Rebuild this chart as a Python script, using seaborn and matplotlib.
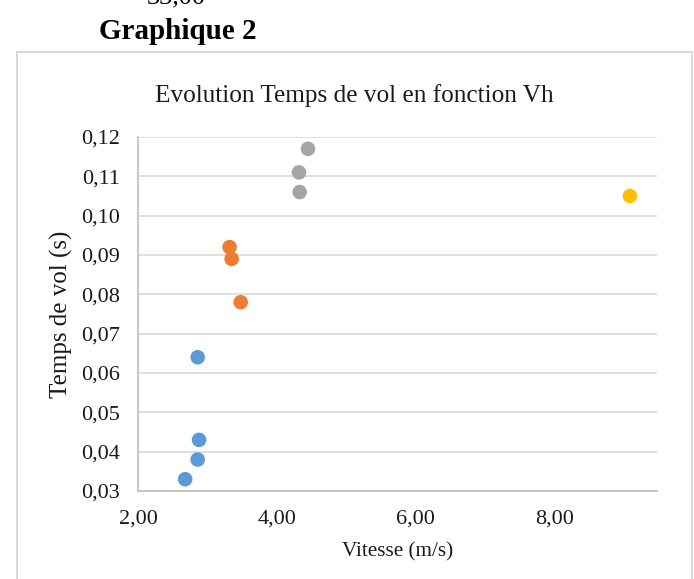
import matplotlib
matplotlib.use("Agg")
import matplotlib.pyplot as plt
import matplotlib.patches as mpatches
import seaborn as sns
import pandas as pd

# Data
series = ["S1", "S1", "S1", "S1", "S2", "S2", "S2", "S3", "S3", "S3", "S4"]
vitesse = [2.68, 2.86, 2.88, 2.86, 3.32, 3.35, 3.48, 4.45, 4.32, 4.33, 9.09]
temps_vol = [0.033, 0.038, 0.043, 0.064, 0.092, 0.089, 0.078, 0.117, 0.111, 0.106, 0.105]
colors = ["#5B9BD5", "#ED7D31", "#A5A5A5", "#FFC000"]
y_ticks = [0.03, 0.04, 0.05, 0.06, 0.07, 0.08, 0.09, 0.10, 0.11, 0.12]
x_ticks = [2.0, 4.0, 6.0, 8.0]

df = pd.DataFrame({"serie": series, "Vitesse": vitesse, "Temps": temps_vol})

sns.set_style("white")
plt.rcParams["font.family"] = ["Liberation Serif", "DejaVu Serif"]

W, H = 694, 579
fig = plt.figure(figsize=(W / 100, H / 100), dpi=100)

# chart frame
frame = mpatches.Rectangle((17 / W, -0.05), (692 - 17) / W, (579 - 52) / H + 0.05,
                           transform=fig.transFigure, fill=False,
                           edgecolor="#d9d9d9", linewidth=1.5)
fig.patches.append(frame)

fig.text(176 / W, 1 - 3 / H, "33,00", ha="center", va="baseline", fontsize=19,
         color="#000000")
fig.text(178 / W, 1 - 39 / H, "Graphique 2", ha="center", va="baseline",
         fontsize=21, fontweight="bold", color="#000000")
fig.text(354.5 / W, 1 - 102 / H, "Evolution Temps de vol en fonction Vh",
         ha="center", va="baseline", fontsize=18.2, color="#1a1a1a")

left, right, top, bottom = 138, 657, 137, 491
ax = fig.add_axes([left / W, 1 - bottom / H, (right - left) / W, (bottom - top) / H])

sns.scatterplot(data=df, x="Vitesse", y="Temps", hue="serie", palette=colors,
                s=110, linewidth=0, legend=False, ax=ax, zorder=3, clip_on=False)

ax.set_xlim(2.0, 9.48)
ax.set_ylim(0.03, 0.12)
ax.set_yticks(y_ticks)
ax.set_xticks(x_ticks)
ax.set_yticklabels([f"{v:.2f}".replace(".", ",") for v in y_ticks])
ax.set_xticklabels([f"{v:.2f}".replace(".", ",") for v in x_ticks])
ax.tick_params(axis="both", length=0, labelsize=16, colors="#1a1a1a")
ax.tick_params(axis="y", pad=13)
ax.tick_params(axis="x", pad=13)

ax.grid(axis="y", color="#d9d9d9", linewidth=1.2)
ax.grid(axis="x", visible=False)
ax.set_axisbelow(True)
for s in ["top", "right"]:
    ax.spines[s].set_visible(False)
for s in ["left", "bottom"]:
    ax.spines[s].set_color("#bfbfbf")
    ax.spines[s].set_linewidth(1.2)

ax.set_xlabel("Vitesse (m/s)", fontsize=15.2, color="#1a1a1a", labelpad=10)
ax.set_ylabel("Temps de vol (s)", fontsize=18, color="#1a1a1a", labelpad=6)

fig.savefig("out.png", dpi=100)
